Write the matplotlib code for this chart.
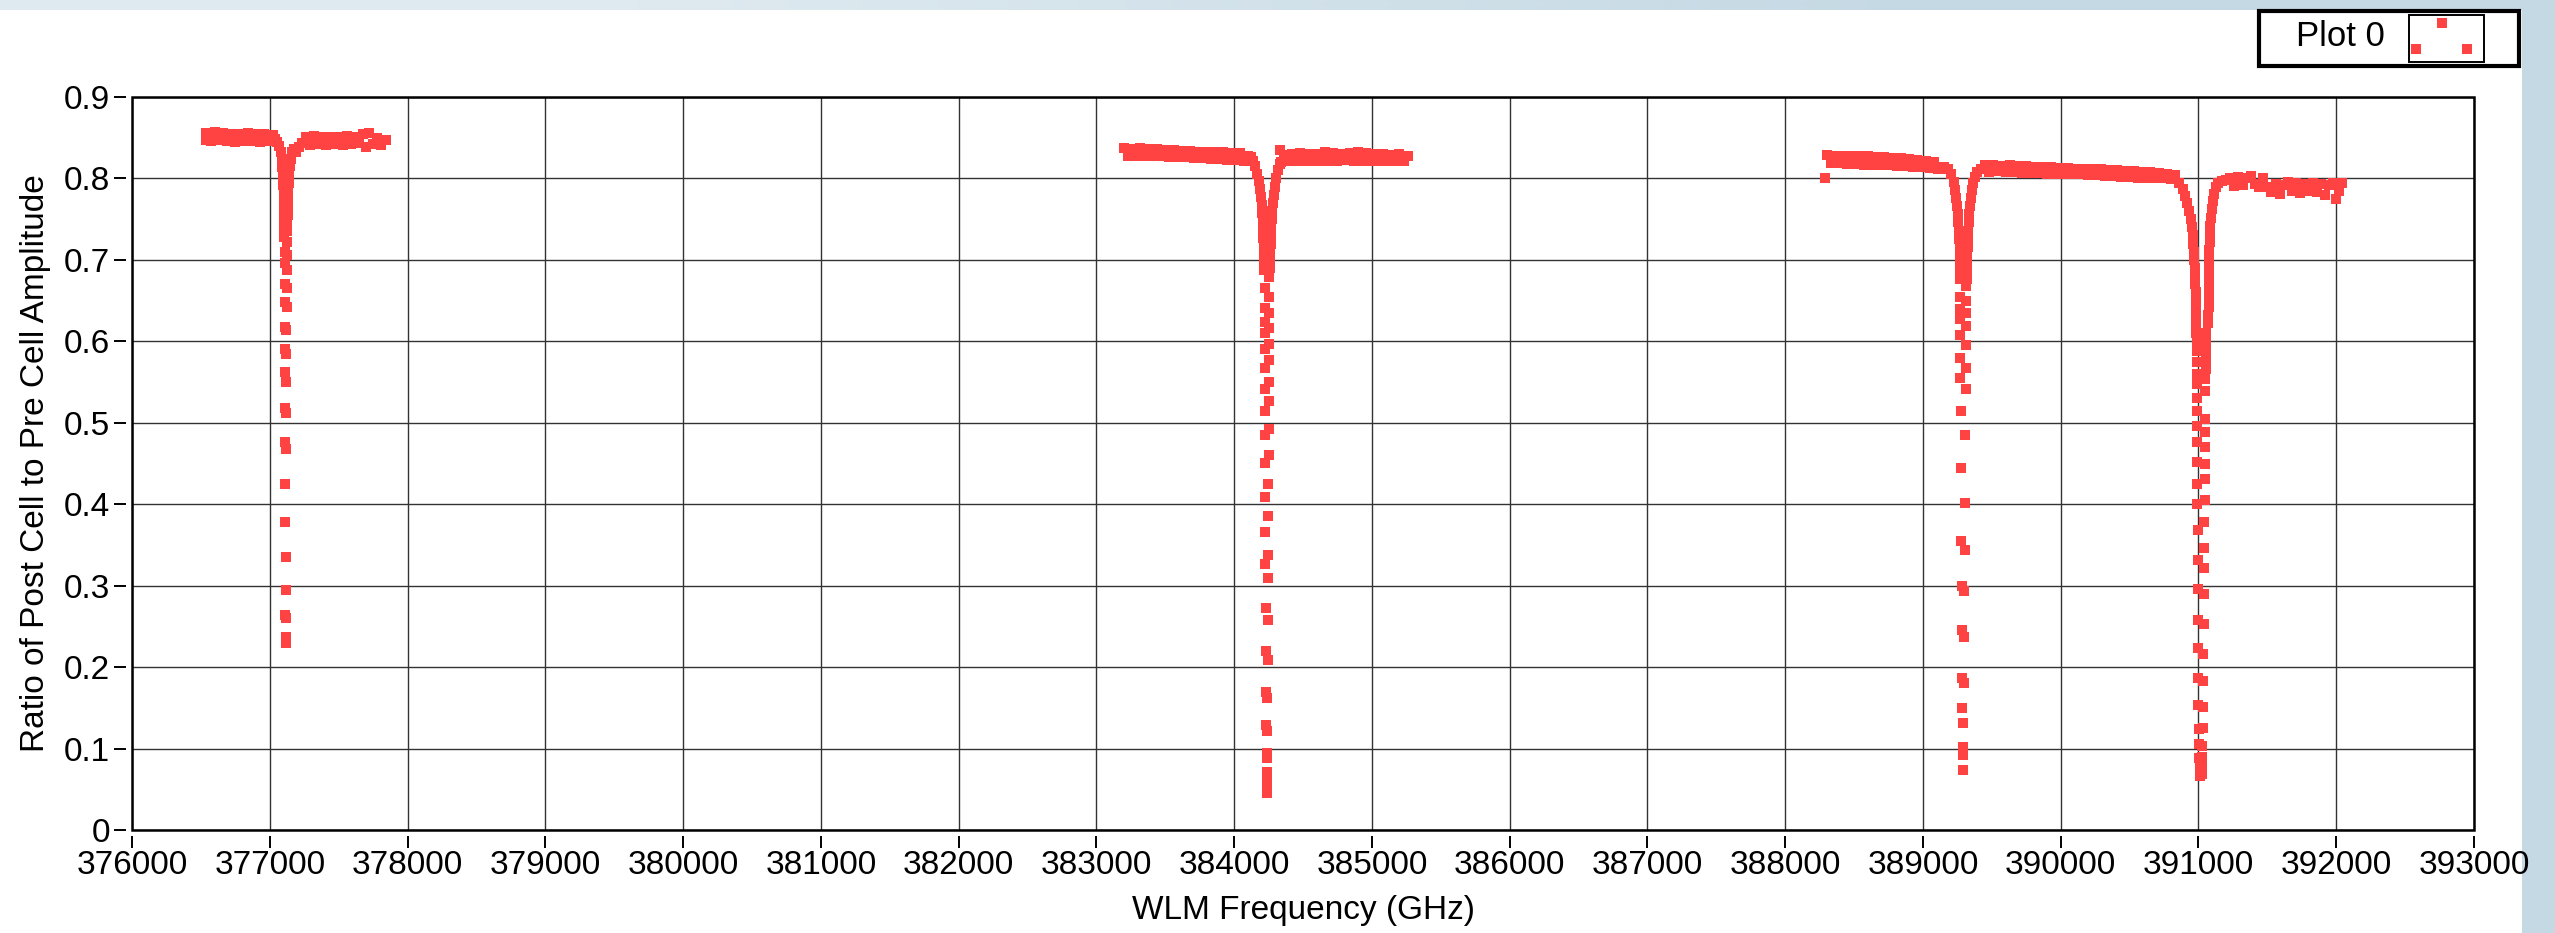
#!/usr/bin/env python3
"""Absorption dips: post-cell / pre-cell amplitude ratio vs WLM frequency."""

import matplotlib.pyplot as plt
from matplotlib.colors import LinearSegmentedColormap
from matplotlib.patches import Rectangle

# scan 1, dip near 377.1 THz
scan1_freq = [
    376537, 376540, 376570, 376600, 376630, 376660, 376690, 376720, 376750,
    376780, 376810, 376840, 376870, 376900, 376930, 376960, 376990, 377020,
    377040, 377055, 377068, 377078, 377086, 377092, 377096, 377099, 377101,
    377103, 377104, 377105,
    377106, 377126, 377106, 377126, 377107, 377125, 377108, 377124, 377108,
    377123, 377109, 377122, 377110, 377121, 377110, 377120, 377111, 377119,
    377112, 377118, 377112, 377117, 377114, 377114, 377115, 377115, 377114,
    377116, 377115, 377116,
    377128, 377129, 377130, 377132, 377134, 377137, 377141, 377146, 377153,
    377162, 377175, 377190, 377210, 377235,
    377260, 377290, 377320, 377350, 377380, 377410, 377440, 377470, 377500,
    377530, 377560, 377590, 377620, 377650, 377680, 377700, 377720, 377750,
    377780, 377810, 377843,
]
scan1_ratio = [
    0.847, 0.856, 0.846, 0.857, 0.847, 0.856, 0.846, 0.855, 0.845,
    0.855, 0.846, 0.856, 0.846, 0.855, 0.845, 0.854, 0.846, 0.853,
    0.848, 0.845, 0.840, 0.833, 0.824, 0.814, 0.803, 0.792, 0.781,
    0.770, 0.760, 0.750,
    0.740, 0.735, 0.728, 0.722, 0.710, 0.706, 0.696, 0.688, 0.670,
    0.666, 0.648, 0.642, 0.618, 0.614, 0.590, 0.585, 0.562, 0.550,
    0.518, 0.512, 0.476, 0.468, 0.425, 0.378, 0.335, 0.295, 0.264,
    0.260, 0.237, 0.230,
    0.745, 0.755, 0.765, 0.775, 0.785, 0.795, 0.805, 0.815, 0.824,
    0.832, 0.836, 0.833, 0.838, 0.844,
    0.851, 0.841, 0.852, 0.842, 0.851, 0.841, 0.851, 0.842, 0.851,
    0.841, 0.852, 0.842, 0.851, 0.843, 0.855, 0.838, 0.856, 0.842,
    0.850, 0.841, 0.847,
]

# scan 2, dip near 384.24 THz
scan2_freq = [
    383200, 383230, 383260, 383290, 383320, 383350, 383380, 383410, 383440,
    383470, 383500, 383530, 383560, 383590, 383620, 383650, 383680, 383710,
    383740, 383770, 383800, 383830, 383860, 383890, 383920, 383950, 383980,
    384010, 384040, 384070, 384100,
    384120, 384140, 384155, 384168, 384180, 384190, 384197, 384202, 384206,
    384209, 384211, 384213, 384214, 384215, 384216, 384217,
    384250, 384222, 384250, 384222, 384250, 384222, 384250, 384222, 384250,
    384222, 384250, 384222, 384250, 384222, 384250, 384222, 384250, 384222,
    384250, 384222, 384248, 384224, 384248, 384224, 384246, 384226, 384246,
    384228, 384244, 384230, 384244, 384232, 384242, 384234, 384242, 384236,
    384240, 384238, 384238, 384238, 384238,
    384260, 384262, 384264, 384266, 384268, 384271, 384274, 384278, 384283,
    384289, 384296, 384305, 384316, 384330, 384330, 384338,
    384360, 384390, 384420, 384450, 384480, 384510, 384540, 384570, 384600,
    384630, 384660, 384690, 384720, 384750, 384780, 384810, 384840, 384870,
    384900, 384930, 384960, 384990, 385020, 385050, 385080, 385110, 385140,
    385170, 385200, 385230, 385260,
]
scan2_ratio = [
    0.837, 0.827, 0.836, 0.828, 0.837, 0.827, 0.836, 0.827, 0.836,
    0.827, 0.835, 0.826, 0.835, 0.826, 0.834, 0.826, 0.834, 0.825,
    0.833, 0.825, 0.833, 0.824, 0.832, 0.824, 0.832, 0.823, 0.831,
    0.823, 0.831, 0.822, 0.828,
    0.826, 0.822, 0.815, 0.806, 0.797, 0.787, 0.777, 0.767, 0.757,
    0.747, 0.737, 0.727, 0.717, 0.707, 0.697, 0.687,
    0.679, 0.665, 0.655, 0.641, 0.635, 0.624, 0.616, 0.610, 0.597,
    0.590, 0.577, 0.567, 0.550, 0.542, 0.527, 0.515, 0.492, 0.485,
    0.460, 0.451, 0.425, 0.409, 0.385, 0.366, 0.338, 0.326, 0.309,
    0.273, 0.258, 0.220, 0.209, 0.170, 0.162, 0.129, 0.121, 0.095,
    0.088, 0.071, 0.060, 0.050, 0.045,
    0.690, 0.700, 0.710, 0.720, 0.730, 0.740, 0.750, 0.760, 0.770,
    0.780, 0.790, 0.800, 0.810, 0.818, 0.835, 0.820,
    0.829, 0.821, 0.830, 0.821, 0.831, 0.822, 0.830, 0.821, 0.830,
    0.822, 0.832, 0.821, 0.831, 0.821, 0.830, 0.823, 0.831, 0.822,
    0.832, 0.822, 0.831, 0.822, 0.830, 0.821, 0.830, 0.821, 0.829,
    0.821, 0.830, 0.821, 0.828,
]

# scan 3, two dips near 389.29 THz and 391.02 THz
scan3_freq = [
    388290, 388300, 388330, 388360, 388390, 388420, 388450, 388480, 388510,
    388540, 388570, 388600, 388630, 388660, 388690, 388720, 388750, 388780,
    388810, 388840, 388870, 388900, 388930, 388960, 388990, 389020, 389050,
    389080, 389110,
    389150, 389180, 389205, 389222, 389235, 389243, 389249, 389254, 389258,
    389261, 389264, 389266, 389268, 389269, 389270, 389271,
    389310, 389272, 389310, 389272, 389310, 389272, 389310, 389272, 389310,
    389272, 389310, 389272, 389310, 389274, 389306, 389276, 389304, 389278,
    389302, 389280, 389300, 389282, 389298, 389284, 389296, 389286, 389294,
    389290, 389290, 389290,
    389318, 389319, 389320, 389322, 389324, 389326, 389329, 389332, 389336,
    389341, 389346, 389353, 389362, 389375, 389395, 389420,
    389450, 389480, 389510, 389540, 389570, 389600, 389630, 389660, 389690,
    389720, 389750, 389780, 389810, 389840, 389870, 389900, 389930, 389960,
    389990, 390020, 390050, 390080, 390110, 390140, 390170, 390200, 390230,
    390260, 390290, 390320, 390350, 390380, 390410, 390440, 390470, 390500,
    390530, 390560, 390590, 390620, 390650, 390680, 390710, 390740, 390770,
    390800, 390830,
    390860, 390885, 390905, 390920, 390933, 390943, 390951, 390958, 390963,
    390967, 390971, 390974, 390976, 390978, 390980, 390981, 390982, 390983,
    390984, 390985, 390986, 390987,
    390988, 390988, 390988, 390988, 390988, 390990, 390990, 390990, 390992,
    390992, 390992, 390994, 390994, 390996, 390996, 390998, 390998, 391000,
    391002, 391004, 391006, 391008, 391010,
    391052, 391054, 391056, 391054, 391052, 391050, 391050, 391048, 391048,
    391046, 391046, 391044, 391044, 391042, 391042, 391040, 391040, 391038,
    391036, 391034, 391032, 391030, 391028, 391026, 391024, 391022,
    391070, 391072, 391073, 391074, 391075, 391076, 391077, 391078, 391079,
    391080, 391082, 391084, 391087, 391091, 391096, 391103, 391112, 391125,
    391145, 391172, 391200,
    391230, 391260, 391290, 391320, 391350, 391380, 391410, 391440, 391470,
    391500, 391530, 391560, 391590, 391620, 391650, 391680, 391710, 391740,
    391770, 391800, 391830, 391860, 391890, 391920, 391950, 391980, 392000,
    392020, 392045,
]
scan3_ratio = [
    0.800, 0.829, 0.819, 0.828, 0.819, 0.828, 0.818, 0.828, 0.818,
    0.827, 0.817, 0.827, 0.817, 0.826, 0.816, 0.826, 0.816, 0.825,
    0.815, 0.825, 0.815, 0.824, 0.814, 0.823, 0.814, 0.822, 0.813,
    0.820, 0.811,
    0.814, 0.811, 0.805, 0.796, 0.786, 0.776, 0.766, 0.756, 0.746,
    0.736, 0.726, 0.716, 0.706, 0.696, 0.686, 0.676,
    0.668, 0.654, 0.650, 0.640, 0.635, 0.628, 0.619, 0.608, 0.595,
    0.580, 0.567, 0.555, 0.542, 0.514, 0.485, 0.444, 0.401, 0.355,
    0.344, 0.300, 0.293, 0.246, 0.237, 0.187, 0.180, 0.150, 0.131,
    0.102, 0.092, 0.074,
    0.676, 0.686, 0.696, 0.706, 0.716, 0.726, 0.736, 0.746, 0.756,
    0.766, 0.776, 0.786, 0.795, 0.802, 0.808, 0.812,
    0.816, 0.808, 0.817, 0.809, 0.815, 0.808, 0.816, 0.808, 0.815,
    0.807, 0.815, 0.807, 0.814, 0.807, 0.814, 0.806, 0.814, 0.806,
    0.813, 0.806, 0.813, 0.805, 0.812, 0.805, 0.812, 0.804, 0.811,
    0.804, 0.811, 0.803, 0.810, 0.803, 0.810, 0.802, 0.809, 0.802,
    0.809, 0.801, 0.808, 0.801, 0.808, 0.800, 0.807, 0.800, 0.806,
    0.799, 0.804,
    0.795, 0.787, 0.778, 0.770, 0.760, 0.750, 0.740, 0.730, 0.720,
    0.710, 0.700, 0.690, 0.680, 0.670, 0.660, 0.650, 0.640, 0.630,
    0.620, 0.610, 0.600, 0.592,
    0.588, 0.575, 0.560, 0.548, 0.530, 0.514, 0.496, 0.476, 0.452,
    0.425, 0.400, 0.368, 0.332, 0.296, 0.258, 0.223, 0.187, 0.154,
    0.124, 0.106, 0.088, 0.077, 0.066,
    0.610, 0.599, 0.588, 0.578, 0.566, 0.554, 0.539, 0.505, 0.489,
    0.470, 0.450, 0.431, 0.405, 0.378, 0.346, 0.322, 0.290, 0.253,
    0.216, 0.183, 0.151, 0.125, 0.103, 0.090, 0.077, 0.069,
    0.622, 0.632, 0.642, 0.652, 0.662, 0.672, 0.682, 0.692, 0.702,
    0.712, 0.722, 0.732, 0.742, 0.752, 0.762, 0.772, 0.781, 0.789,
    0.794, 0.797, 0.798,
    0.800, 0.791, 0.802, 0.792, 0.800, 0.803, 0.793, 0.790, 0.800,
    0.789, 0.783, 0.793, 0.781, 0.792, 0.796, 0.785, 0.794, 0.782,
    0.793, 0.784, 0.795, 0.783, 0.793, 0.780, 0.792, 0.795, 0.775,
    0.784, 0.794,
]

x_ticks = [376000 + 1000 * i for i in range(18)]
y_ticks = [0, 0.1, 0.2, 0.3, 0.4, 0.5, 0.6, 0.7, 0.8, 0.9]
y_tick_labels = ["0", "0.1", "0.2", "0.3", "0.4", "0.5", "0.6", "0.7", "0.8", "0.9"]

RED = "#ff4242"
MARKER_SIZE = 6.6
W, H = 2555, 933


def fx(x):
    return x / W


def fy(y):
    return 1 - y / H


def main():
    plt.rcParams["font.family"] = ["Liberation Sans", "DejaVu Sans"]
    fig = plt.figure(figsize=(W / 100, H / 100), dpi=100, facecolor="#c5d9e4")

    # bluish backdrop, lighter towards the top left
    bg = fig.add_axes([0, 0, 1, 1], zorder=-10)
    backdrop = LinearSegmentedColormap.from_list("backdrop", ["#dfeaf0", "#c5d9e4"])
    bg.imshow([[0.0, 1.0]], cmap=backdrop, aspect="auto", interpolation="bilinear",
              extent=(0, 1, 0, 1))
    bg.set_axis_off()

    # white panel
    fig.add_artist(Rectangle((0, 0), fx(2522), fy(10), transform=fig.transFigure,
                             facecolor="white", edgecolor="none", zorder=-5))

    ax = fig.add_axes([fx(132), fy(830), fx(2474 - 132), (830 - 97) / H])
    freq = scan1_freq + scan2_freq + scan3_freq
    ratio = scan1_ratio + scan2_ratio + scan3_ratio
    ax.plot(freq, ratio, linestyle="none", marker="s", markersize=MARKER_SIZE,
            markeredgewidth=0, color=RED, zorder=3, label="Plot 0")

    ax.set_xlim(376000, 393000)
    ax.set_ylim(0, 0.9)
    ax.set_xticks(x_ticks)
    ax.set_xticklabels([str(t) for t in x_ticks])
    ax.set_yticks(y_ticks)
    ax.set_yticklabels(y_tick_labels)
    ax.grid(True, color="#333333", linewidth=1.0)
    ax.set_axisbelow(True)

    # ticks sit a few pixels off the frame
    for side in ("top", "right", "left", "bottom"):
        ax.spines[side].set_visible(False)
    ax.spines["left"].set_position(("outward", 4))
    ax.spines["bottom"].set_position(("outward", 4))
    ax.tick_params(direction="out", length=8.6, width=1.4, labelsize=24, color="black")
    ax.tick_params(axis="y", pad=3)
    ax.tick_params(axis="x", pad=2)
    ax.add_patch(Rectangle((0, 0), 1, 1, transform=ax.transAxes, fill=False,
                           edgecolor="black", linewidth=1.8, zorder=4, clip_on=False))

    fig.text(fx(36), fy(463), "Ratio of Post Cell to Pre Cell Amplitude",
             rotation=90, ha="center", va="center", fontsize=24)
    fig.text(fx(1303), fy(910), "WLM Frequency (GHz)", ha="center", va="center",
             fontsize=24)

    # legend box
    fig.add_artist(Rectangle((fx(2259), fy(66)), fx(2519 - 2259), (66 - 11) / H,
                             transform=fig.transFigure, facecolor="white",
                             edgecolor="black", linewidth=3.0, zorder=5))
    fig.add_artist(Rectangle((fx(2409), fy(62)), fx(2484 - 2409), (62 - 15) / H,
                             transform=fig.transFigure, facecolor="white",
                             edgecolor="black", linewidth=1.4, zorder=6))
    fig.text(fx(2340), fy(36), "Plot 0", ha="center", va="center", fontsize=25, zorder=7)
    fig.add_artist(plt.Line2D([fx(2442), fx(2416), fx(2467)], [fy(23), fy(49), fy(49)],
                              transform=fig.transFigure, linestyle="none", marker="s",
                              markersize=MARKER_SIZE, markeredgewidth=0, color=RED,
                              zorder=7))

    fig.savefig("out.png", dpi=100, facecolor=fig.get_facecolor())


if __name__ == "__main__":
    main()
